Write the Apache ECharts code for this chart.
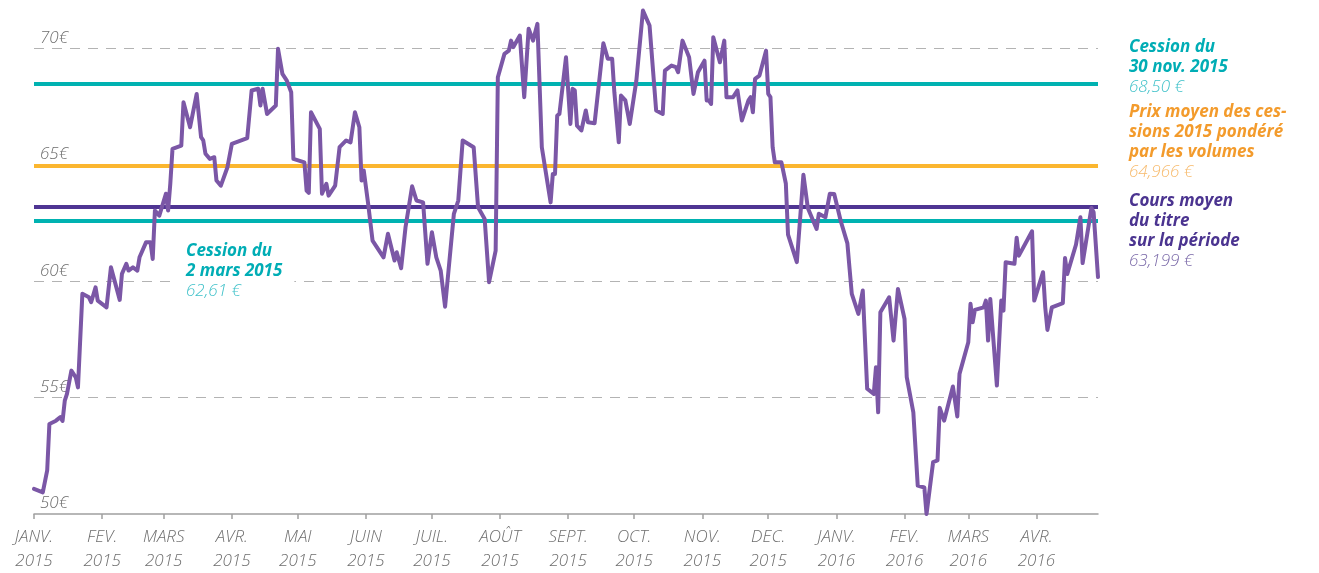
<!DOCTYPE html>
<html>
<head>
<meta charset="utf-8">
<title>Cours du titre</title>
<script src="https://cdn.jsdelivr.net/npm/echarts@6/dist/echarts.min.js"></script>
<style>
  html, body { margin: 0; padding: 0; background: #fff; }
  #chart { width: 1319px; height: 573px; }
</style>
</head>
<body>
<div id="chart"></div>
<script>
// cours du titre
const dates = [
  '2015-01-01','2015-01-05','2015-01-07','2015-01-08','2015-01-11','2015-01-13','2015-01-14','2015-01-15','2015-01-16','2015-01-18',
  '2015-01-20','2015-01-21','2015-01-23','2015-01-26','2015-01-27','2015-01-29','2015-01-30','2015-02-03','2015-02-05','2015-02-09',
  '2015-02-10','2015-02-12','2015-02-13','2015-02-15','2015-02-17','2015-02-18','2015-02-19','2015-02-21','2015-02-23','2015-02-24',
  '2015-02-25','2015-02-27','2015-03-02','2015-03-03','2015-03-04','2015-03-05','2015-03-09','2015-03-10','2015-03-13','2015-03-16',
  '2015-03-18','2015-03-19','2015-03-20','2015-03-22','2015-03-24','2015-03-25','2015-03-27','2015-03-30','2015-04-01','2015-04-08',
  '2015-04-10','2015-04-13','2015-04-14','2015-04-15','2015-04-17','2015-04-21','2015-04-22','2015-04-24','2015-04-26','2015-04-28',
  '2015-04-29','2015-05-04','2015-05-05','2015-05-06','2015-05-07','2015-05-11','2015-05-12','2015-05-14','2015-05-15','2015-05-18',
  '2015-05-20','2015-05-23','2015-05-25','2015-05-27','2015-05-29','2015-05-30','2015-05-31','2015-06-02','2015-06-04','2015-06-09',
  '2015-06-11','2015-06-14','2015-06-15','2015-06-17','2015-06-19','2015-06-22','2015-06-24','2015-06-27','2015-06-29','2015-07-01',
  '2015-07-03','2015-07-05','2015-07-07','2015-07-11','2015-07-13','2015-07-15','2015-07-20','2015-07-22','2015-07-25','2015-07-27',
  '2015-07-30','2015-07-31','2015-08-03','2015-08-05','2015-08-06','2015-08-07','2015-08-10','2015-08-12','2015-08-14','2015-08-16',
  '2015-08-18','2015-08-20','2015-08-24','2015-08-25','2015-08-26','2015-08-27','2015-08-28','2015-08-31','2015-09-02','2015-09-03',
  '2015-09-04','2015-09-05','2015-09-07','2015-09-09','2015-09-10','2015-09-13','2015-09-17','2015-09-19','2015-09-21','2015-09-22',
  '2015-09-24','2015-09-25','2015-09-27','2015-09-29','2015-10-02','2015-10-05','2015-10-08','2015-10-11','2015-10-14','2015-10-15',
  '2015-10-18','2015-10-20','2015-10-21','2015-10-23','2015-10-26','2015-10-28','2015-10-30','2015-11-02','2015-11-03','2015-11-04',
  '2015-11-05','2015-11-06','2015-11-09','2015-11-11','2015-11-12','2015-11-15','2015-11-17','2015-11-19','2015-11-22','2015-11-23',
  '2015-11-24','2015-11-25','2015-11-27','2015-11-30','2015-12-01','2015-12-02','2015-12-03','2015-12-04','2015-12-07','2015-12-09',
  '2015-12-10','2015-12-14','2015-12-17','2015-12-19','2015-12-23','2015-12-24','2015-12-27','2015-12-29','2015-12-31','2016-01-03',
  '2016-01-06','2016-01-07','2016-01-08','2016-01-11','2016-01-13','2016-01-15','2016-01-18','2016-01-19','2016-01-20','2016-01-21',
  '2016-01-25','2016-01-27','2016-01-29','2016-02-01','2016-02-02','2016-02-05','2016-02-07','2016-02-10','2016-02-11','2016-02-14',
  '2016-02-16','2016-02-17','2016-02-19','2016-02-23','2016-02-25','2016-02-26','2016-03-01','2016-03-02','2016-03-03','2016-03-04',
  '2016-03-08','2016-03-09','2016-03-10','2016-03-11','2016-03-14','2016-03-16','2016-03-17','2016-03-18','2016-03-22','2016-03-23',
  '2016-03-24','2016-03-30','2016-03-31','2016-04-04','2016-04-05','2016-04-06','2016-04-08','2016-04-13','2016-04-14','2016-04-15',
  '2016-04-19','2016-04-21','2016-04-22','2016-04-26','2016-04-27','2016-04-29'
];
const prices = [
  51.08,50.93,51.87,53.87,54.01,54.16,54.00,54.87,55.16,56.16,
  55.87,55.44,59.46,59.31,59.10,59.74,59.17,58.88,60.60,59.20,
  60.32,60.75,60.46,60.60,60.46,61.03,61.25,61.68,61.68,60.96,
  63.04,62.82,63.76,63.04,64.19,65.69,65.83,67.69,66.62,68.05,
  66.19,66.05,65.48,65.26,65.33,64.33,64.11,64.90,65.90,66.15,
  68.20,68.27,67.55,68.27,67.19,67.55,69.99,68.91,68.62,68.12,
  65.26,65.11,63.90,63.80,67.26,66.55,63.76,64.19,63.68,64.11,
  65.76,66.05,65.97,67.26,66.62,64.33,64.76,63.33,61.75,61.03,
  62.04,60.89,61.25,60.56,62.32,64.08,63.47,63.39,60.75,62.11,
  61.03,60.46,58.91,62.90,63.47,66.05,65.76,63.18,62.68,59.96,
  61.32,68.77,69.77,69.91,70.34,70.06,70.56,67.91,70.85,70.34,
  71.06,65.76,63.39,64.61,64.61,67.12,67.19,69.63,66.76,68.27,
  68.20,66.69,66.48,67.34,66.83,66.79,70.23,69.56,69.56,68.12,
  65.97,67.98,67.77,66.76,68.62,71.63,70.99,67.34,67.19,69.05,
  69.27,69.20,68.98,70.34,69.63,68.05,68.98,69.48,67.77,67.77,
  67.62,70.49,69.41,70.34,67.91,67.91,68.20,66.91,67.77,67.91,
  67.26,68.70,68.84,69.91,68.05,67.91,65.76,65.11,65.11,64.20,
  62.00,60.82,64.58,63.15,62.25,62.90,62.75,63.76,63.75,62.58,
  61.63,60.53,59.46,58.60,59.60,55.38,55.16,56.31,54.37,58.67,
  59.31,57.45,59.67,58.38,55.88,54.37,51.22,51.14,50.00,52.23,
  52.30,54.56,54.01,55.48,54.19,56.02,57.38,59.03,58.24,58.77,
  58.88,59.17,57.45,59.24,55.52,59.17,58.74,60.82,60.75,61.87,
  61.10,62.15,59.17,60.39,58.88,57.91,58.88,59.06,61.00,60.31,
  61.58,62.75,60.78,63.15,62.97,60.18
];

// graduations
const monthNames = ['JANV.','FEV.','MARS','AVR.','MAI','JUIN','JUIL.','AOÛT','SEPT.','OCT.','NOV.','DEC.'];
const monthTicks = [
  '2015-01-01','2015-02-01','2015-03-01','2015-04-01','2015-05-01','2015-06-01','2015-07-01','2015-08-01',
  '2015-09-01','2015-10-01','2015-11-01','2015-12-01','2016-01-01','2016-02-01','2016-03-01','2016-04-01'
];
const yMin = 50, yMax = 72, yStep = 5;

// niveaux de référence
const refValues = [68.50, 64.966, 63.199, 62.61];
const refColors = ['#00b2b1', '#fbb62f', '#4f3593', '#00b2b1'];

const toTime = s => { const p = s.split('-'); return new Date(+p[0], +p[1] - 1, +p[2]).getTime(); };

const FONT = '"Open Sans", "Noto Sans", sans-serif';

let myChart = echarts.init(document.getElementById('chart'));

myChart.setOption({
  animation: false,
  grid: { left: 34, right: 221, top: 2, bottom: 59 },
  xAxis: {
    // axe numérique en millisecondes, graduations au 1er de chaque mois
    type: 'value',
    min: toTime('2015-01-01'),
    max: toTime('2016-04-29'),
    axisLine: { lineStyle: { color: '#a0a0a0', width: 1.5 } },
    axisTick: {
      show: true,
      length: 5,
      customValues: monthTicks.map(toTime),
      lineStyle: { color: '#a0a0a0', width: 1.5 }
    },
    axisLabel: {
      customValues: monthTicks.map(toTime),
      formatter: function (v) {
        const d = new Date(v);
        return monthNames[d.getMonth()] + '\n' + d.getFullYear();
      },
      color: '#6e6e6e',
      fontFamily: FONT,
      fontStyle: 'italic',
      fontWeight: 300,
      fontSize: 17,
      lineHeight: 24,
      margin: 11
    },
    splitLine: { show: false }
  },
  yAxis: {
    type: 'value',
    min: yMin,
    max: yMax,
    interval: yStep,
    axisLine: { show: false },
    axisTick: { show: false },
    axisLabel: {
      inside: true,
      margin: 6,
      verticalAlign: 'bottom',
      padding: [0, 0, 2, 0],
      showMaxLabel: false,
      formatter: '{value}€',
      color: '#6e6e6e',
      fontFamily: FONT,
      fontStyle: 'italic',
      fontWeight: 300,
      fontSize: 17
    },
    splitLine: {
      show: true,
      showMinLine: false,
      showMaxLine: false,
      lineStyle: { color: '#b3b3b3', width: 1, type: [10, 8] }
    }
  },
  series: [
    {
      // lignes horizontales de référence
      name: 'ref',
      type: 'line',
      data: [],
      z: 1,
      markLine: {
        z: 1,
        silent: true,
        symbol: 'none',
        label: { show: false },
        data: refValues.map((v, i) => ({ yAxis: v, lineStyle: { color: refColors[i], width: 4, type: 'solid' } }))
      }
    },
    {
      name: 'cours',
      type: 'line',
      z: 5,
      showSymbol: false,
      data: dates.map((d, i) => [toTime(d), prices[i]]),
      lineStyle: { color: '#7b57a6', width: 4, join: 'round', cap: 'round' }
    }
  ],
  graphic: [
    {
      type: 'text', left: 1129, top: 39, z: 10,
      style: {
        text: '{b|Cession du}\n{b|30 nov. 2015}\n{v|68,50 €}',
        rich: {
          b: { fill: '#00adb5', fontFamily: FONT, fontSize: 17, fontWeight: 'bold', fontStyle: 'italic', lineHeight: 20 },
          v: { fill: '#3fc1c9', fontFamily: FONT, fontSize: 17, fontWeight: 300, fontStyle: 'italic', lineHeight: 20 }
        }
      }
    },
    {
      type: 'text', left: 1129, top: 104, z: 10,
      style: {
        text: '{b|Prix moyen des ces-}\n{b|sions 2015 pondéré}\n{b|par les volumes}\n{v|64,966 €}',
        rich: {
          b: { fill: '#f39b2c', fontFamily: FONT, fontSize: 17, fontWeight: 'bold', fontStyle: 'italic', lineHeight: 20 },
          v: { fill: '#f7ba6c', fontFamily: FONT, fontSize: 17, fontWeight: 300, fontStyle: 'italic', lineHeight: 20 }
        }
      }
    },
    {
      type: 'text', left: 1129, top: 193, z: 10,
      style: {
        text: '{b|Cours moyen}\n{b|du titre}\n{b|sur la période}\n{v|63,199 €}',
        rich: {
          b: { fill: '#4b3490', fontFamily: FONT, fontSize: 17, fontWeight: 'bold', fontStyle: 'italic', lineHeight: 20 },
          v: { fill: '#7a69a8', fontFamily: FONT, fontSize: 17, fontWeight: 300, fontStyle: 'italic', lineHeight: 20 }
        }
      }
    },
    {
      type: 'text', left: 170, top: 241, z: 10,
      style: {
        text: '{b|Cession du}\n{b|2 mars 2015}\n{v|62,61 €}',
        backgroundColor: '#fff',
        padding: [0, 12, 0, 16],
        rich: {
          b: { fill: '#00adb5', fontFamily: FONT, fontSize: 17, fontWeight: 'bold', fontStyle: 'italic', lineHeight: 20 },
          v: { fill: '#3fc1c9', fontFamily: FONT, fontSize: 17, fontWeight: 300, fontStyle: 'italic', lineHeight: 20 }
        }
      }
    }
  ]
});
</script>
</body>
</html>
